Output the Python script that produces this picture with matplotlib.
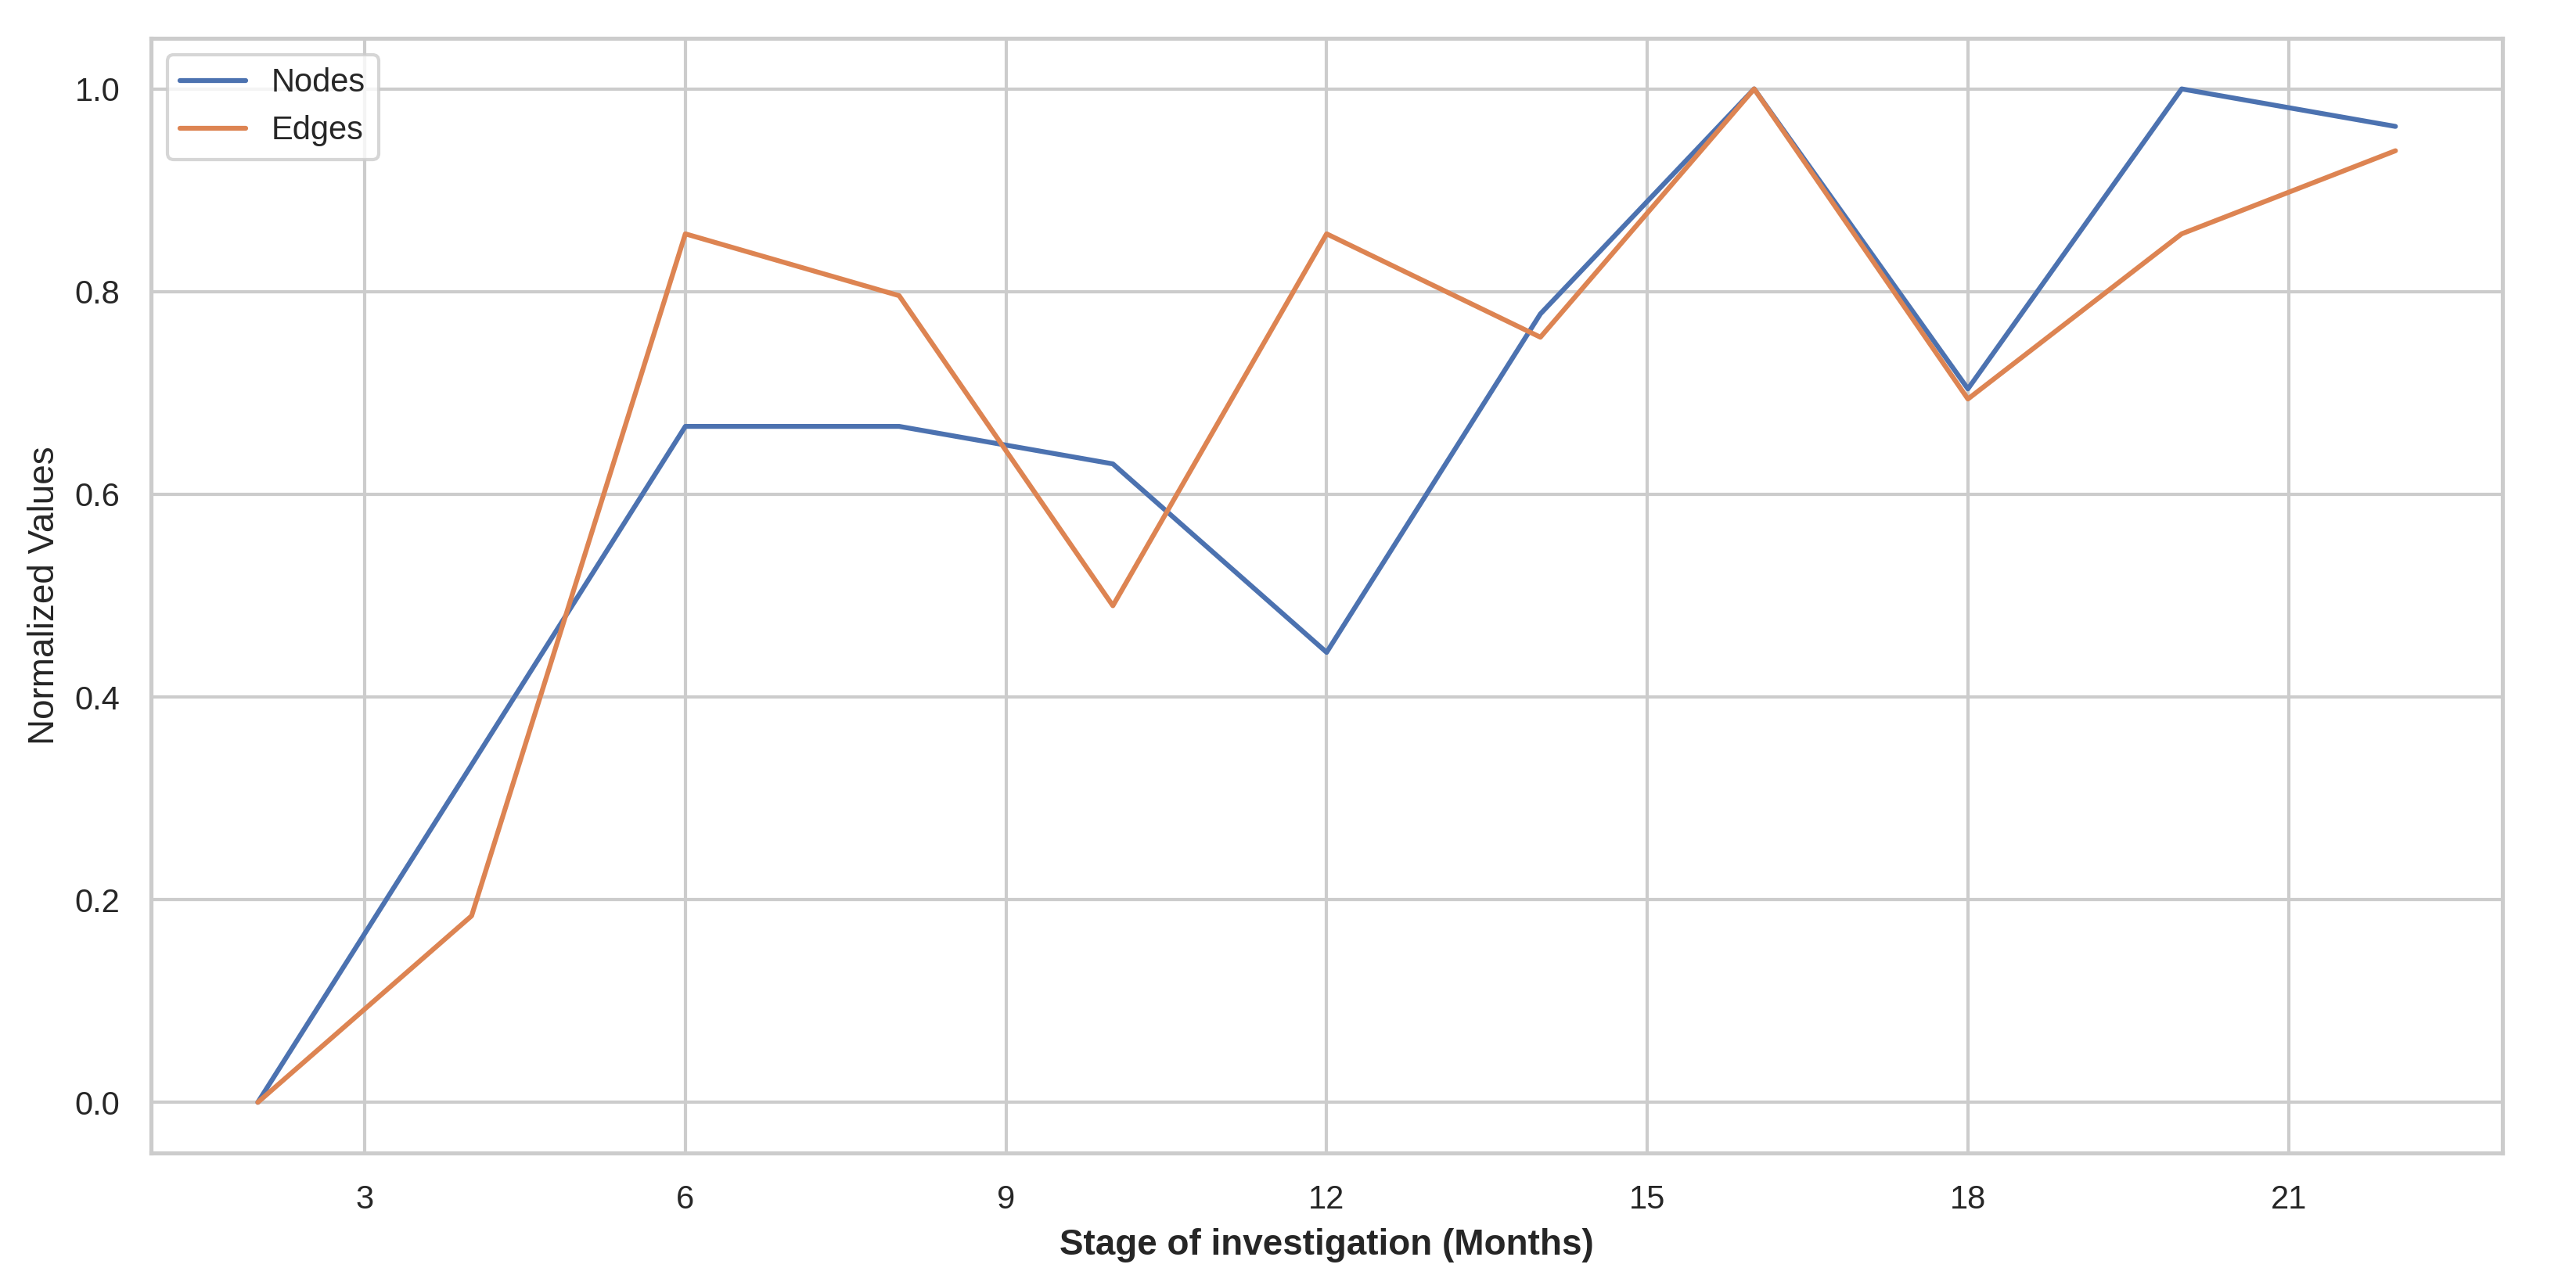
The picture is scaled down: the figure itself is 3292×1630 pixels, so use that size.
import matplotlib

matplotlib.use("Agg")
import matplotlib.pyplot as plt
import seaborn as sns

# normalized network size over the investigation
months = [2, 4, 6, 8, 10, 12, 14, 16, 18, 20, 22]
nodes = [0.0, 0.333, 0.667, 0.667, 0.630, 0.444, 0.778, 1.0, 0.704, 1.0, 0.963]
edges = [0.0, 0.184, 0.857, 0.796, 0.490, 0.857, 0.755, 1.0, 0.694, 0.857, 0.939]

sns.set_theme(style="whitegrid")
plt.rcParams["font.family"] = ["Liberation Sans", "DejaVu Sans"]

fig, ax = plt.subplots(figsize=(3292 / 300, 1630 / 300), dpi=300)
fig.subplots_adjust(left=0.0586, right=0.9714, top=0.970, bottom=0.0957)

ax.plot(months, nodes, label="Nodes", linewidth=1.5)
ax.plot(months, edges, label="Edges", linewidth=1.5)

ax.xaxis.set_major_locator(matplotlib.ticker.MultipleLocator(3))
ax.tick_params(labelsize=10)
ax.set_xlabel("Stage of investigation (Months)", fontsize=11, fontweight="bold")
ax.set_ylabel("Normalized Values", fontsize=11)
ax.legend(loc="upper left", fontsize=10)

fig.savefig("out.png", dpi=300)
plt.close(fig)
